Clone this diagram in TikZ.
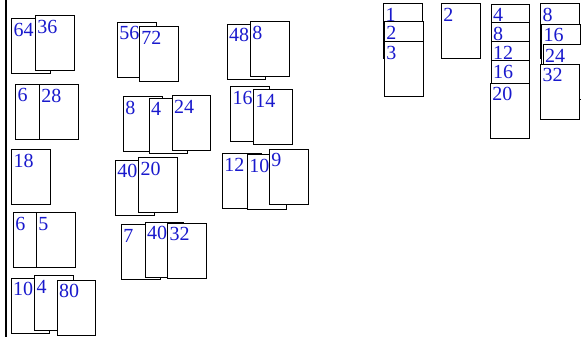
\documentclass[tikz,border=0pt]{standalone}
\usepackage{fontspec}
\setmainfont{Liberation Serif}
\usetikzlibrary{calc}
\definecolor{lblblue}{RGB}{25,25,205}
\tikzset{
  pagebox/.style={draw=black, line width=0.7pt, fill=white, minimum width=38.7pt, minimum height=55pt, inner sep=0pt, outer sep=0pt, anchor=north west},
  lbl/.style={text=lblblue, font=\fontsize{20}{20}\selectfont, inner sep=0pt, anchor=base west}
}
\newcommand\pbox[4]{\node[pagebox] (#1) at (#2,#3) {}; \node[lbl] (#1t) at ($(#1.north west)+(1.8,17.8)$) {#4};}
\begin{document}
\begin{tikzpicture}[x=1pt,y=-1pt]
\useasboundingbox (0,0) rectangle (581,337);
\coordinate (vt) at (6,0);
\coordinate (vb) at (6,337);
\draw[line width=1.8pt] (vt) -- (vb);
% column 1
\pbox{ga}{11.7}{18.3}{64}
\pbox{gb}{35.3}{15.3}{36}
\pbox{ha}{15.7}{84}{6}
\pbox{hb}{39.3}{84.7}{28}
\pbox{ia}{11.7}{149.3}{18}
\pbox{ja}{13.3}{212.3}{6}
\pbox{jb}{36.3}{212.3}{5}
\pbox{ka}{11}{278}{10}
\pbox{kb}{34.7}{275.3}{4}
\pbox{kc}{57}{280}{80}
% column 2
\pbox{la}{117.3}{22}{56}
\pbox{lb}{139.3}{26.3}{72}
\pbox{ma}{123.3}{96.3}{8}
\pbox{mb}{149}{98}{4}
\pbox{mc}{172}{95.3}{24}
\pbox{na}{115.3}{160}{40}
\pbox{nb}{138.7}{157.3}{20}
\pbox{oa}{121.3}{224.7}{7}
\pbox{ob}{145}{222}{40}
\pbox{oc}{167.7}{223}{32}
% column 3
\pbox{pa}{227}{24}{48}
\pbox{pb}{250.3}{21.3}{8}
\pbox{qa}{230.7}{86.7}{16}
\pbox{qb}{253.3}{89.3}{14}
\pbox{ra}{222.3}{153.3}{12}
\pbox{rb}{247.3}{154.3}{10}
\pbox{rc}{269.3}{149}{9}
% right stacks
\pbox{sa}{383.7}{3.3}{1}
\pbox{sb}{384.3}{21.3}{2}
\pbox{sc}{384.3}{41.3}{3}
\pbox{ta}{441.3}{3.7}{2}
\pbox{ua}{491}{4}{4}
\pbox{ub}{491}{22.3}{8}
\pbox{uc}{491}{41.3}{12}
\pbox{ud}{491}{60.3}{16}
\pbox{ue}{490.3}{83}{20}
\pbox{va}{540.7}{3.3}{8}
\pbox{vb2}{541.7}{24}{16}
\pbox{vc}{543}{44.3}{24}
\pbox{vd}{540.7}{64}{32}
\end{tikzpicture}
\end{document}
